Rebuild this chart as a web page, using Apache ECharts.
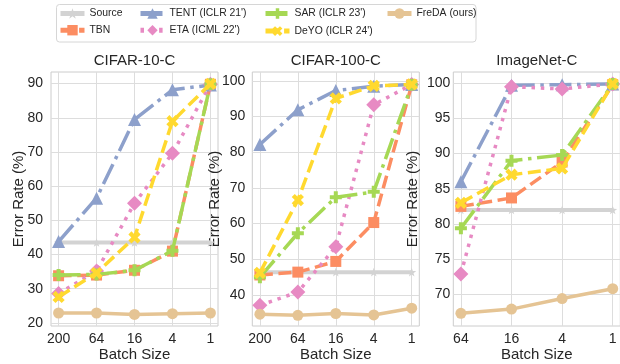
<!DOCTYPE html>
<html><head><meta charset="utf-8">
<script src="https://cdn.jsdelivr.net/npm/echarts@6/dist/echarts.min.js"></script>
<style>html,body{margin:0;padding:0;background:#fff}#c{width:620px;height:364px}</style>
</head><body><div id="c"></div>
<script>
// ---- data ----
const methodNames = ['Source', 'TBN', "TENT (ICLR 21')", "ETA (ICML 22')", "SAR (ICLR 23')", "DeYO (ICLR 24')", 'FreDA (ours)'];
const panelTitles = ['CIFAR-10-C', 'CIFAR-100-C', 'ImageNet-C'];

const cifar10Cats = ['200', '64', '16', '4', '1'];
const cifar10Source = [43.5, 43.5, 43.5, 43.5, 43.5];
const cifar10TBN    = [33.8, 34.0, 35.4, 41.0, 89.8];
const cifar10TENT   = [43.8, 56.5, 79.5, 88.2, 89.6];
const cifar10ETA    = [28.6, 35.2, 55.0, 69.6, 89.8];
const cifar10SAR    = [34.0, 34.2, 35.4, 41.1, 89.8];
const cifar10DeYO   = [27.6, 34.6, 45.0, 79.0, 89.9];
const cifar10FreDA  = [22.9, 22.9, 22.5, 22.7, 22.9];
const cifar10Ticks  = [20, 30, 40, 50, 60, 70, 80, 90];

const cifar100Cats = ['200', '64', '16', '4', '1'];
const cifar100Source = [46.4, 46.4, 46.4, 46.4, 46.4];
const cifar100TBN    = [45.6, 46.4, 49.4, 60.3, 98.9];
const cifar100TENT   = [82.2, 91.9, 97.3, 98.5, 99.0];
const cifar100ETA    = [37.1, 40.8, 53.5, 93.3, 99.0];
const cifar100SAR    = [45.0, 57.3, 67.4, 68.9, 98.9];
const cifar100DeYO   = [46.2, 66.6, 95.1, 98.6, 99.0];
const cifar100FreDA  = [34.6, 34.3, 34.8, 34.4, 36.3];
const cifar100Ticks  = [40, 50, 60, 70, 80, 90, 100];

const imagenetCats = ['64', '16', '4', '1'];
const imagenetSource = [82.0, 82.0, 82.0, 82.0];
const imagenetTBN    = [82.5, 83.7, 88.8, 99.8];
const imagenetTENT   = [86.0, 99.7, 99.8, 99.9];
const imagenetETA    = [72.9, 99.5, 99.2, 99.9];
const imagenetSAR    = [79.4, 89.0, 89.8, 99.9];
const imagenetDeYO   = [83.0, 87.0, 87.9, 99.9];
const imagenetFreDA  = [67.3, 67.9, 69.4, 70.8];
const imagenetTicks  = [70, 75, 80, 85, 90, 95, 100];

// ---- styles ----
const FONT = 'Liberation Sans, Arial, sans-serif';
const TXT = '#262626';
const STAR = 'path://M0,-10 L2.35,-3.24 9.51,-3.09 3.8,1.24 5.88,8.09 0,4 -5.88,8.09 -3.8,1.24 -9.51,-3.09 -2.35,-3.24 Z';
const PLUS = 'path://M-1.2,-3.6 L1.2,-3.6 L1.2,-1.2 L3.6,-1.2 L3.6,1.2 L1.2,1.2 L1.2,3.6 L-1.2,3.6 L-1.2,1.2 L-3.6,1.2 L-3.6,-1.2 L-1.2,-1.2 Z';
const LW = 3.5;
const styles = [
  {color: '#d3d3d3', type: 'solid', symbol: STAR, size: 9, rot: 0, w: 4},
  {color: '#fc8d62', type: [13, 5.6], symbol: 'rect', size: 11, rot: 0, w: LW},
  {color: '#8da0cb', type: [22, 5.6, 3.5, 5.6], symbol: 'triangle', size: 13, rot: 0, w: LW},
  {color: '#e78ac3', type: [3.5, 5.8], symbol: 'diamond', size: 15, rot: 0, w: LW},
  {color: '#a6d854', type: [22, 5.6, 3.5, 5.6], symbol: PLUS, size: 12, rot: 0, w: LW},
  {color: '#ffd92f', type: [13, 5.6], symbol: PLUS, size: 13, rot: 45, w: LW},
  {color: '#e5c494', type: 'solid', symbol: 'circle', size: 11, rot: 0, w: LW}
];

const panels = [
  {cats: cifar10Cats, series: [cifar10Source, cifar10TBN, cifar10TENT, cifar10ETA, cifar10SAR, cifar10DeYO, cifar10FreDA], ticks: cifar10Ticks,
   ymin: 19.1, ymax: 93.4, xmin: -0.2, xmax: 4.2, left: 51, width: 167, labMargin: 8, nameGap: 25},
  {cats: cifar100Cats, series: [cifar100Source, cifar100TBN, cifar100TENT, cifar100ETA, cifar100SAR, cifar100DeYO, cifar100FreDA], ticks: cifar100Ticks,
   ymin: 31.3, ymax: 102.5, xmin: -0.2, xmax: 4.2, left: 252.3, width: 167, labMargin: 7, nameGap: 30},
  {cats: imagenetCats, series: [imagenetSource, imagenetTBN, imagenetTENT, imagenetETA, imagenetSAR, imagenetDeYO, imagenetFreDA], ticks: imagenetTicks,
   ymin: 65.5, ymax: 101.6, xmin: -0.15, xmax: 3.15, left: 453.3, width: 167, labMargin: 3, nameGap: 33}
];

const TOP = 72, HEIGHT = 254;
const grid = [], xAxis = [], yAxis = [], series = [], title = [];
panels.forEach((p, k) => {
  grid.push({left: p.left, top: TOP, width: p.width, height: HEIGHT, show: true, borderColor: '#cccccc', borderWidth: 1,
    backgroundColor: '#fff', outerBoundsMode: 'none', containLabel: false});
  const idx = p.cats.map((c, i) => i);
  xAxis.push({
    type: 'value', gridIndex: k, min: p.xmin, max: p.xmax,
    name: 'Batch Size', nameLocation: 'middle', nameGap: 21, nameMoveOverlap: false,
    nameTextStyle: {fontFamily: FONT, fontSize: 15, color: TXT},
    axisLine: {show: false}, axisTick: {show: false, customValues: idx},
    axisLabel: {customValues: idx, margin: 6, fontFamily: FONT, fontSize: 14, color: TXT, formatter: v => p.cats[Math.round(v)]},
    splitLine: {show: true, lineStyle: {color: '#dddddd', width: 1}}
  });
  yAxis.push({
    type: 'value', gridIndex: k, min: p.ymin, max: p.ymax,
    name: 'Error Rate (%)', nameLocation: 'middle', nameGap: p.nameGap, nameRotate: 90, nameMoveOverlap: false,
    nameTextStyle: {fontFamily: FONT, fontSize: 15, color: TXT},
    axisLine: {show: false}, axisTick: {show: false, customValues: p.ticks},
    axisLabel: {customValues: p.ticks, margin: p.labMargin, fontFamily: FONT, fontSize: 14, color: TXT},
    splitLine: {show: true, lineStyle: {color: '#dddddd', width: 1}}
  });
  title.push({text: panelTitles[k], left: p.left + p.width / 2, top: 53, textAlign: 'center', padding: 0,
    textStyle: {fontFamily: FONT, fontSize: 15, fontWeight: 'normal', color: TXT}});
  p.series.forEach((vals, m) => {
    const s = styles[m];
    series.push({
      type: 'line', name: methodNames[m], xAxisIndex: k, yAxisIndex: k,
      data: vals.map((v, i) => [i, v]),
      symbol: s.symbol, symbolSize: s.size, symbolRotate: s.rot, symbolKeepAspect: true, showSymbol: true,
      lineStyle: {color: s.color, width: s.w, type: s.type, cap: 'butt'},
      itemStyle: {color: s.color, borderWidth: 0},
      emphasis: {disabled: true}, animation: false, z: 2 + m
    });
  });
});

const legendBase = {orient: 'vertical', top: 7, itemWidth: 24, itemHeight: 13, itemGap: 3.7, padding: 0,
  lineStyle: {width: 5},
  textStyle: {fontFamily: FONT, fontSize: 10.4, color: TXT, lineHeight: 13}, selectedMode: false};
const legend = [
  Object.assign({}, legendBase, {left: 58, data: [methodNames[0], methodNames[1]]}),
  Object.assign({}, legendBase, {left: 138, data: [methodNames[2], methodNames[3]]}),
  Object.assign({}, legendBase, {left: 263, data: [methodNames[4], methodNames[5]]}),
  Object.assign({}, legendBase, {left: 385, data: [methodNames[6]]})
];

const chart = echarts.init(document.getElementById('c'), null, {renderer: 'canvas'});
chart.setOption({
  animation: false,
  backgroundColor: '#ffffff',
  title, grid, xAxis, yAxis, series, legend,
  graphic: [{type: 'rect', z: -1, shape: {x: 56.5, y: 4.5, width: 419.5, height: 37.5, r: 3},
    style: {fill: '#ffffff', stroke: '#d6d6d6', lineWidth: 1}}]
});
</script></body></html>
